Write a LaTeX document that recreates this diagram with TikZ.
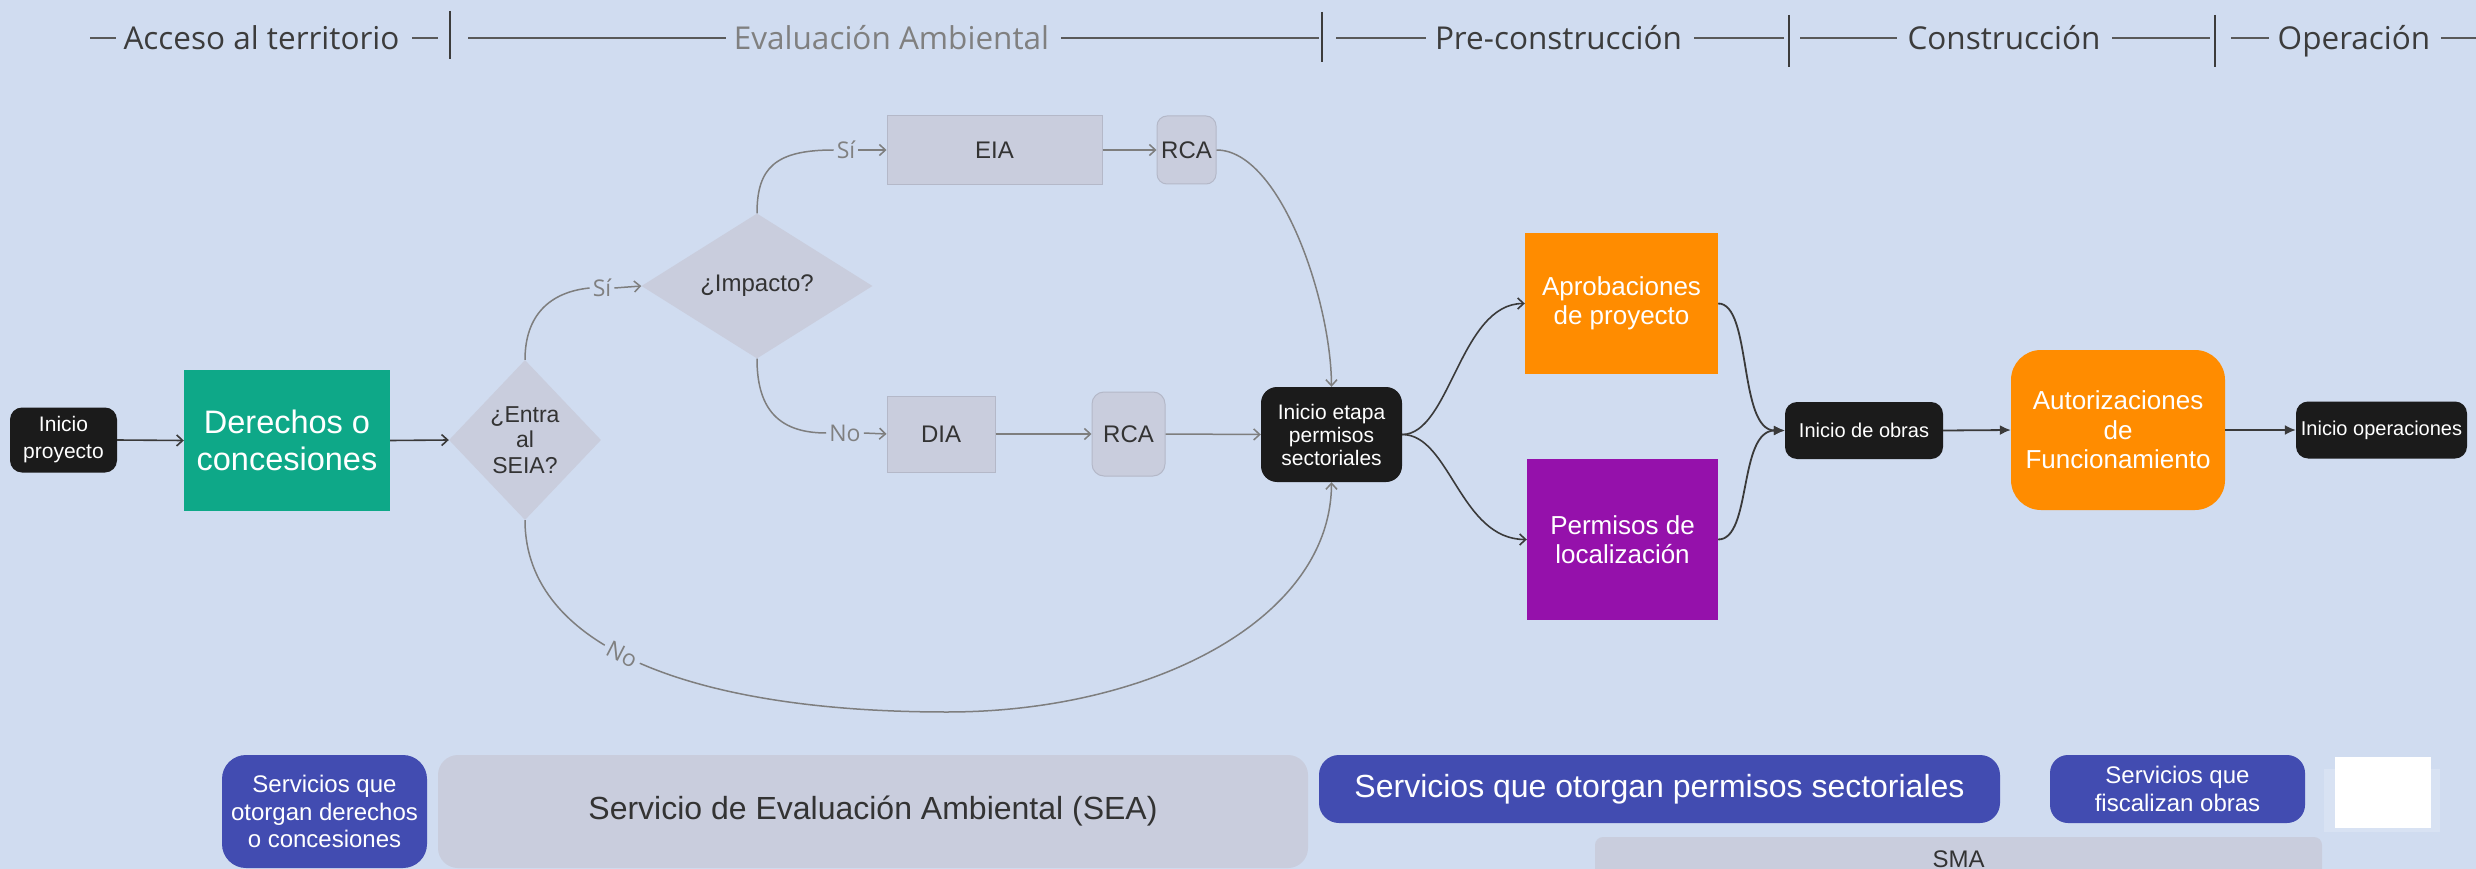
\documentclass[tikz,border=0pt]{standalone}
\usepackage{fontspec}
\setmainfont{Liberation Sans}
\newfontfamily\hdrfont{Open Sans}
\usetikzlibrary{arrows.meta,shapes.geometric}
\definecolor{bg}{HTML}{D0DCF0}
\definecolor{bgwhite}{HTML}{D8E2F3}
\definecolor{grayfill}{HTML}{C9CDDD}
\definecolor{grayedge}{HTML}{B4B8C8}
\definecolor{darkbox}{HTML}{1B1B1B}
\definecolor{greenbox}{HTML}{0EA888}
\definecolor{orangebox}{HTML}{FF8C00}
\definecolor{purplebox}{HTML}{9511AB}
\definecolor{bluebox}{HTML}{424CB1}
\definecolor{lgray}{HTML}{7E7E7E}
\definecolor{dgray}{HTML}{3A3A3A}
\definecolor{txtdark}{HTML}{333333}
\definecolor{hdrdark}{HTML}{3C3C3C}
\definecolor{hdrlight}{HTML}{808080}
\newcommand\fsz[2]{\fontsize{#1}{#2}\selectfont}
\begin{document}
\begin{tikzpicture}[x=1pt,y=-1pt,
  every node/.style={inner sep=0pt, align=center},
  hdr/.style={font=\hdrfont\fsz{31.5}{36}, text=hdrdark, anchor=base},
  hdrline/.style={draw=hdrdark!85, line width=2pt},
  sepline/.style={draw=hdrdark, line width=1.5pt},
  blk/.style={rectangle, fill=darkbox, text=white, rounded corners=13pt, font=\fsz{20}{23}},
  gbox/.style={rectangle, fill=grayfill, draw=grayedge, line width=1pt, text=txtdark, font=\fsz{24}{27}},
  dia/.style={diamond, fill=grayfill, text=txtdark, font=\fsz{23}{25.5}},
  colbox/.style={rectangle, text=white, font=\fsz{26}{29.5}},
  svc/.style={rectangle, fill=bluebox, text=white, rounded corners=20pt},
  lbl/.style={font=\hdrfont\fsz{23}{26}, text=hdrlight, inner sep=3pt},
  lline/.style={draw=lgray, line width=1.5pt},
  larrow/.style={draw=lgray, line width=1.5pt, -{Straight Barb[length=6pt,width=11pt]}},
  darrow/.style={draw=dgray, line width=1.6pt, -{Straight Barb[length=6pt,width=11pt]}},
  farrow/.style={draw=dgray, line width=1.8pt, -{Latex[length=11pt,width=10pt]}}
]
\fill[bg] (0,0) rectangle (2476,869);
\useasboundingbox (0,0) rectangle (2476,869);

% header
\node[hdr] (h1) at (261.5,50) {Acceso al territorio};
\node[hdr, text=hdrlight] (h2) at (891.5,50) {Evaluación Ambiental};
\node[hdr] (h3) at (1558.5,50) {Pre-construcción};
\node[hdr] (h4) at (2004,50) {Construcción};
\node[hdr] (h5) at (2354,50) {Operación};
\draw[hdrline] (90,38.5) -- (116,38.5);
\draw[hdrline] (412,38.5) -- (438,38.5);
\draw[hdrline] (468,38.5) -- (726,38.5);
\draw[hdrline] (1061,38.5) -- (1319,38.5);
\draw[hdrline] (1336,38.5) -- (1426,38.5);
\draw[hdrline] (1694,38.5) -- (1784,38.5);
\draw[hdrline] (1800,38.5) -- (1897,38.5);
\draw[hdrline] (2112,38.5) -- (2210,38.5);
\draw[hdrline] (2231,38.5) -- (2269,38.5);
\draw[hdrline] (2441,38.5) -- (2476,38.5);
\draw[sepline] (450,11) -- (450,59);
\draw[sepline] (1322,12) -- (1322,62);
\draw[sepline] (1789,15) -- (1789,67);
\draw[sepline] (2215,15) -- (2215,67);

% main nodes
\node[blk, font=\fsz{21}{27}, rounded corners=12pt, minimum width=107pt, minimum height=65pt] (ip) at (63.5,440) {Inicio\\proyecto};
\node[colbox, fill=greenbox, font=\fsz{32.5}{37}, minimum width=206pt, minimum height=141pt] (der) at (287,440.5) {Derechos o\\concesiones};
\node[dia, minimum width=152pt, minimum height=160pt] (entra) at (525,440) {¿Entra\\al\\SEIA?};
\node[dia, font=\fsz{24}{27}, minimum width=231pt, minimum height=145pt] (imp) at (757,286) {¿Impacto?};
\node[gbox, minimum width=215pt, minimum height=69pt] (eia) at (994.5,150) {EIA};
\node[gbox, rounded corners=10pt, minimum width=59pt, minimum height=68pt] (rca1) at (1186.5,150) {RCA};
\node[gbox, minimum width=108pt, minimum height=76pt] (dia1) at (941,434) {DIA};
\node[gbox, rounded corners=12pt, minimum width=73pt, minimum height=84pt] (rca2) at (1128.5,434) {RCA};
\node[blk, font=\fsz{21}{23}, rounded corners=16pt, minimum width=141pt, minimum height=95pt] (etapa) at (1331.5,434.5) {Inicio etapa\\permisos\\sectoriales};
\node[colbox, fill=orangebox, minimum width=193pt, minimum height=141pt] (apr) at (1621.5,303.5) {Aprobaciones\\de proyecto};
\node[colbox, fill=purplebox, minimum width=191pt, minimum height=161pt] (perm) at (1622.5,539.5) {Permisos de\\localización};
\node[blk, minimum width=158pt, minimum height=57pt, rounded corners=12pt] (obras) at (1864,430.5) {Inicio de obras};
\node[colbox, fill=orangebox, rounded corners=30pt, font=\fsz{26}{29.5}, minimum width=214pt, minimum height=160pt] (aut) at (2118,430) {Autorizaciones\\de\\Funcionamiento};
\node[blk, minimum width=171pt, minimum height=57pt, rounded corners=12pt] (ops) at (2381.5,430) {Inicio operaciones};

% labels on connectors
\node[lbl] (s1) at (602,288) {Sí};
\node[lbl] (s2) at (846,150) {Sí};
\node[lbl] (n1) at (845,433) {No};

% connectors
\draw[darrow] (ip.east) -- (der.west);
\draw[darrow] (der.east) -- (entra.west);
\draw[lline] (entra.north) .. controls (525,315) and (550,292) .. (s1.west);
\draw[larrow] (s1.east) -- (imp.west);
\draw[lline] (imp.north) .. controls (757,168) and (775,150) .. (s2.west);
\draw[larrow] (s2.east) -- (eia.west);
\draw[lline] (imp.south) .. controls (757,405) and (775,433) .. (n1.west);
\draw[larrow] (n1.east) -- (dia1.west);
\draw[larrow] (eia.east) -- (rca1.west);
\draw[larrow] (rca1.east) .. controls (1280,150) and (1331,300) .. (etapa.north);
\draw[larrow] (dia1.east) -- (rca2.west);
\draw[larrow] (rca2.east) -- (etapa.west);
\draw[larrow] (entra.south) .. controls (525,650) and (700,712) .. node[pos=0.45, sloped, lbl, fill=bg, inner sep=4pt] {No} (947,712) .. controls (1150,712) and (1331,620) .. (etapa.south);
\draw[darrow] (etapa.east) .. controls (1450,434.5) and (1460,303.5) .. (apr.west);
\draw[darrow] (etapa.east) .. controls (1450,434.5) and (1460,539.5) .. (perm.west);
\draw[farrow] (apr.east) .. controls (1752,303.5) and (1738,430.5) .. (obras.west);
\draw[farrow] (perm.east) .. controls (1752,539.5) and (1738,430.5) .. (obras.west);
\draw[farrow] (obras.east) -- (aut.west);
\draw[farrow] (aut.east) -- (ops.west);

% bottom services
\node[svc, rounded corners=24pt, font=\fsz{24}{27.5}, minimum width=205pt, minimum height=113pt] (sv1) at (324.5,811.5) {Servicios que\\otorgan derechos\\o concesiones};
\node[rectangle, fill=grayfill, rounded corners=20pt, text=txtdark, font=\fsz{32}{36}, minimum width=870pt, minimum height=113pt] (sea) at (873,811.5) {Servicio de Evaluación Ambiental (SEA)};
\node[svc, font=\fsz{32}{36}, minimum width=681pt, minimum height=68pt] (sv2) at (1659.5,789) {Servicios que otorgan permisos sectoriales};
\node[svc, rounded corners=18pt, font=\fsz{24}{27.5}, minimum width=255pt, minimum height=68pt] (sv3) at (2177.5,789) {Servicios que\\fiscalizan obras};
\fill[bgwhite] (2324,769) rectangle (2440,832);
\fill[white] (2335,757) rectangle (2431,828);
\node[rectangle, fill=grayfill, rounded corners=8pt, text=txtdark, font=\fsz{24}{27}, minimum width=727pt, minimum height=44pt] (sma) at (1958.5,859) {SMA};
\end{tikzpicture}
\end{document}
